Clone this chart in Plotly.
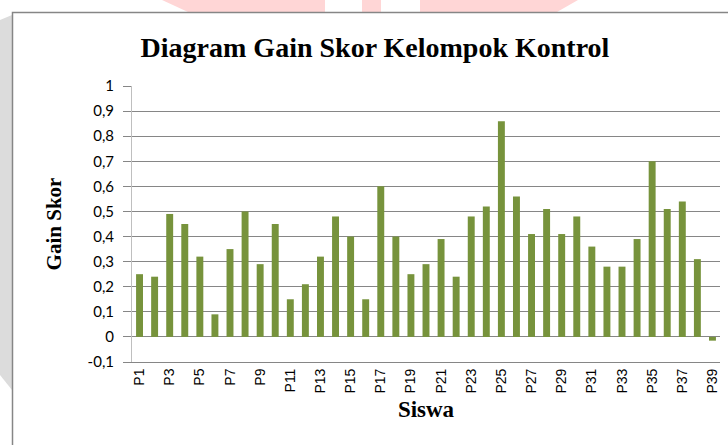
import plotly.graph_objects as go

# data
siswa = [f"P{i}" for i in range(1, 40)]
gain_skor = [
    0.25, 0.24, 0.49, 0.45, 0.32, 0.09, 0.35, 0.50, 0.29, 0.45,
    0.15, 0.21, 0.32, 0.48, 0.40, 0.15, 0.60, 0.40, 0.25, 0.29,
    0.39, 0.24, 0.48, 0.52, 0.86, 0.56, 0.41, 0.51, 0.41, 0.48,
    0.36, 0.28, 0.28, 0.39, 0.70, 0.51, 0.54, 0.31, -0.015,
]
y_ticks = [-0.1, 0, 0.1, 0.2, 0.3, 0.4, 0.5, 0.6, 0.7, 0.8, 0.9, 1]
y_labels = ["-0,1", "0", "0,1", "0,2", "0,3", "0,4", "0,5", "0,6", "0,7", "0,8", "0,9", "1"]

W, H = 728, 445
L, R, T, B = 132, 8, 86, 83
plot_w = W - L - R
plot_h = H - T - B


def px(x):
    return (x - L) / plot_w


def py(y):
    return (H - B - y) / plot_h


def poly(points):
    path = "M " + " L ".join(f"{px(x)},{py(y)}" for x, y in points) + " Z"
    return path


fig = go.Figure()
fig.add_trace(go.Bar(
    x=siswa, y=gain_skor,
    marker=dict(color="#77933C", line=dict(width=0)),
    hoverinfo="x+y",
))

shapes = []
# faint watermark around the chart box
for pts, col in [
    ([(162, 0), (325, 0), (325, 12), (188, 12)], "#ffd6d6"),
    ([(362, 0), (381, 0), (381, 12), (362, 12)], "#ffd6d6"),
    ([(420, 0), (578, 0), (557, 12), (420, 12)], "#ffd6d6"),
    ([(0, 20), (12, 15), (12, 390), (0, 375)], "#dcdcdc"),
]:
    shapes.append(dict(type="path", path=poly(pts), xref="paper", yref="paper",
                       fillcolor=col, line=dict(width=0), layer="above"))
# chart box border
shapes.append(dict(type="rect", xref="paper", yref="paper",
                   x0=px(12.5), y0=py(12.5), x1=px(W + 5), y1=py(H + 5),
                   line=dict(color="#868686", width=1.5), layer="above"))

fig.update_layout(
    width=W, height=H,
    margin=dict(l=L, r=R, t=T, b=B),
    paper_bgcolor="white", plot_bgcolor="white",
    bargap=0.54,
    showlegend=False,
    shapes=shapes,
    title=dict(
        text="<b>Diagram Gain Skor Kelompok Kontrol</b>",
        font=dict(family="Liberation Serif", size=28, color="black"),
        x=375 / W, xanchor="center", y=1 - 47 / H, yanchor="middle",
    ),
)
fig.update_xaxes(
    showline=True, linecolor="#868686", linewidth=1,
    tickangle=-90, tickmode="array",
    tickvals=siswa[::2], ticktext=siswa[::2],
    tickfont=dict(family="Liberation Sans", size=14, color="black"),
    showgrid=False,
    title=dict(text="<b>Siswa</b>", standoff=8,
               font=dict(family="Liberation Serif", size=23, color="black")),
)
fig.update_yaxes(
    range=[-0.1, 1], tickmode="array", tickvals=y_ticks, ticktext=y_labels,
    showgrid=True, gridcolor="#868686", gridwidth=1, zeroline=False,
    showline=True, linecolor="#bfbfbf", linewidth=1,
    ticks="outside", ticklen=8, tickcolor="#868686",
    ticklabelstandoff=6,
    tickfont=dict(family="Lato", size=15, color="black"),
    title=dict(text="<b>Gain Skor</b>", standoff=20,
               font=dict(family="Liberation Serif", size=21, color="black")),
)

# drop the browser's default body margin so the figure sits at the window corner
fig.write_html("out.html", config={"displayModeBar": False},
               post_script="document.body.style.margin='0px';")
